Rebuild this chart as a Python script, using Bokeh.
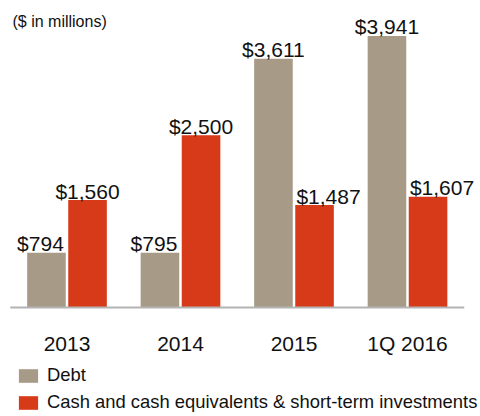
from bokeh.plotting import figure
from bokeh.models import ColumnDataSource, Range1d, Legend, LegendItem, Label
from bokeh.transform import dodge
from bokeh.embed import file_html
from bokeh.resources import INLINE

categories = ["2013", "2014", "2015", "1Q 2016"]
debt = [794, 795, 3611, 3941]
cash = [1560, 2500, 1487, 1607]
series_names = ["Debt", "Cash and cash equivalents & short-term investments"]

# layout-only: horizontal nudges of the value labels (pixels)
debt_label_dx = [-6, -6, 0, 0]
cash_label_dx = [0, 0, 14, 14]

DEBT_COLOR = "#A79A87"
CASH_COLOR = "#D73A18"
TEXT_COLOR = "#111111"
FONT = "Liberation Sans"

idx = list(range(len(categories)))
src = ColumnDataSource(dict(
    i=idx,
    cat=categories,
    zero=[0] * len(categories),
    debt=debt,
    cash=cash,
    debt_lbl=["${:,}".format(v) for v in debt],
    cash_lbl=["${:,}".format(v) for v in cash],
    debt_dx=debt_label_dx,
    cash_dx=cash_label_dx,
))

PX_PER_CAT = 113.5
x0 = -66.5 / PX_PER_CAT
PX_PER_UNIT = 0.0689
p = figure(width=480, height=416, output_backend="svg", toolbar_location=None,
           x_range=Range1d(x0, x0 + 480 / PX_PER_CAT),
           y_range=Range1d(-(416 - 307) / PX_PER_UNIT, 307 / PX_PER_UNIT),
           min_border=0)
p.outline_line_color = None
p.background_fill_color = None
p.border_fill_color = None
p.xgrid.visible = False
p.ygrid.visible = False
p.xaxis.visible = False
p.yaxis.visible = False

OFF = 0.181
W = 0.34
r1 = p.vbar(x=dodge("i", -OFF), top="debt", width=W, source=src,
            fill_color=DEBT_COLOR, line_color=None)
r2 = p.vbar(x=dodge("i", OFF), top="cash", width=W, source=src,
            fill_color=CASH_COLOR, line_color=None)

# baseline (category axis line)
p.segment(x0=-0.5, y0=0, x1=len(categories) - 0.5, y1=0, line_color="#B3B3B3", line_width=2)

# category labels
p.text(x="i", y="zero", text="cat", source=src, y_offset=36, text_align="center",
       text_baseline="alphabetic", text_font={"value": FONT}, text_font_size="21px",
       text_color=TEXT_COLOR)

p.text(x=dodge("i", -OFF), y="debt", text="debt_lbl", source=src,
       x_offset="debt_dx", y_offset=-9, text_align="center", text_baseline="alphabetic",
       text_font={"value": FONT}, text_font_size="21px", text_color=TEXT_COLOR)
p.text(x=dodge("i", OFF), y="cash", text="cash_lbl", source=src,
       x_offset="cash_dx", y_offset=-9, text_align="center", text_baseline="alphabetic",
       text_font={"value": FONT}, text_font_size="21px", text_color=TEXT_COLOR)

p.add_layout(Label(x=12, y=395, x_units="screen", y_units="screen", text="($ in millions)",
                   text_font=FONT, text_font_size="16px", text_color=TEXT_COLOR,
                   text_baseline="alphabetic"))

legend = Legend(items=[LegendItem(label=series_names[0], renderers=[r1]),
                       LegendItem(label=series_names[1], renderers=[r2])],
                location=(16, 3), orientation="vertical",
                glyph_width=24, glyph_height=17, label_standoff=7, spacing=5,
                padding=0, margin=0, border_line_color=None, background_fill_alpha=0,
                label_text_font=FONT, label_text_font_size="18.4px", label_text_color=TEXT_COLOR)
p.add_layout(legend)

open("out.html", "w").write(file_html(p, INLINE))
